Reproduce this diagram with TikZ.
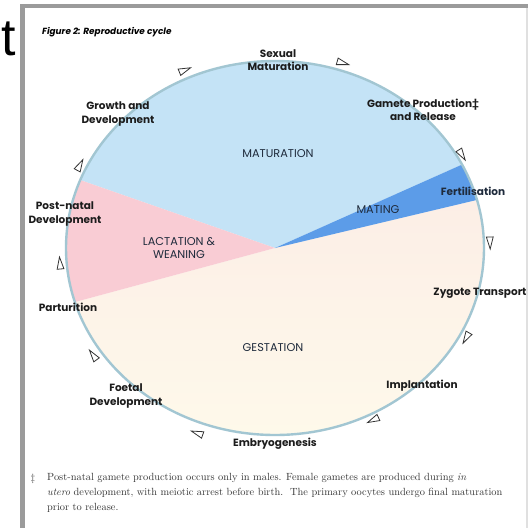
\documentclass[tikz,border=0pt]{standalone}
\usepackage{fontspec}
\newfontfamily\fut{Poppins}
\newfontfamily\bigsans{Liberation Sans}

\definecolor{framegray}{HTML}{9B9B9B}
\definecolor{gesttop}{HTML}{FCEEE6}
\definecolor{gestbottom}{HTML}{FEFAEB}
\definecolor{maturfill}{HTML}{C4E3F6}
\definecolor{lactfill}{HTML}{F9CCD4}
\definecolor{matefill}{HTML}{5C9CE8}
\definecolor{rim}{HTML}{A2C6D2}
\definecolor{labelink}{HTML}{1C1C1C}
\definecolor{zoneink}{HTML}{1F2B3C}
\definecolor{footink}{HTML}{353535}
\definecolor{tricol}{HTML}{333333}

\begin{document}
\begin{tikzpicture}[x=1pt,y=-1pt,
  stage/.style={font=\fut\bfseries\fontsize{10.5}{13.5}\selectfont, text=labelink, align=center, inner sep=0},
  zone/.style={font=\fut\fontsize{11.3}{13.5}\selectfont, text=zoneink, align=center, inner sep=0},
  footnote/.style={font=\rmfamily\fontsize{10.4}{15}\selectfont, text=footink, inner sep=0},
  pics/tri/.style={code={\draw[tricol, line width=0.8pt, fill=white, line join=miter]
      (6,0) -- (-6,3.4) -- (-6,-3.4) -- cycle;}}]
\useasboundingbox (0,0) rectangle (528,528);
\fill[white] (0,0) rectangle (528,528);

% page frame
\fill[framegray] (20,4) rectangle (528,8);
\fill[framegray] (20,4) rectangle (25,528);
\fill[black!12] (526,8) rectangle (527.5,528);

% stray heading letter
\node[font=\bigsans\fontsize{52}{52}\selectfont, anchor=base west, inner sep=0] (tletter) at (1.5,55) {t};

% caption
\node[font=\fut\bfseries\itshape\fontsize{8.9}{10}\selectfont, anchor=west, inner sep=0] (title) at (42,32) {Figure 2: Reproductive cycle};

% the cycle: sectors of the ellipse
\begin{scope}[shift={(275,248)}]
  \shade[top color=gesttop, bottom color=gestbottom] (0,0) -- (196.8:209pt and 187pt)
     arc[start angle=196.8, end angle=374.9, x radius=209pt, y radius=187pt] -- cycle;
  \fill[maturfill] (0,0) -- (26.5:209pt and 187pt)
     arc[start angle=26.5, end angle=158.7, x radius=209pt, y radius=187pt] -- cycle;
  \fill[lactfill] (0,0) -- (158.7:209pt and 187pt)
     arc[start angle=158.7, end angle=196.8, x radius=209pt, y radius=187pt] -- cycle;
  \fill[matefill] (0,0) -- (14.9:209pt and 187pt)
     arc[start angle=14.9, end angle=26.5, x radius=209pt, y radius=187pt] -- cycle;
  \draw[rim, line width=2.4pt] (0,0) ellipse[x radius=209pt, y radius=187pt];
\end{scope}

% direction markers around the rim (clockwise)
\pic[rotate=22]   at (185,70)  {tri};
\pic[rotate=-16]  at (343,63)  {tri};
\pic[rotate=-58]  at (462,155) {tri};
\pic[rotate=-88]  at (490,243) {tri};
\pic[rotate=-120] at (466,338) {tri};
\pic[rotate=-155] at (373,420) {tri};
\pic[rotate=161]  at (197,433) {tri};
\pic[rotate=126]  at (93,355)  {tri};
\pic[rotate=95]   at (60,263)  {tri};
\pic[rotate=62]   at (80,165)  {tri};

% stage labels
\node[stage] (sexmat) at (278,60) {Sexual\\Maturation};
\node[stage] (gamete) at (423,110) {Gamete Production‡\\and Release};
\node[stage] (growth) at (118,114) {Growth and\\Development};
\node[stage, text=zoneink] (fert) at (473,191) {Fertilisation};
\node[stage] (postnatal) at (65,214) {Post-natal\\Development};
\node[stage] (zygote) at (480,293) {Zygote Transport};
\node[stage] (partur) at (68,307) {Parturition};
\node[stage] (implant) at (422,386) {Implantation};
\node[stage] (foetal) at (126,396) {Foetal\\Development};
\node[stage] (embryo) at (275,444) {Embryogenesis};

% phase labels inside the cycle
\node[zone] (maturation) at (278,154) {MATURATION};
\node[zone] (mating) at (378,210) {MATING};
\node[zone] (lactation) at (179,248) {LACTATION \&\\WEANING};
\node[zone] (gestation) at (273,348) {GESTATION};

% footnote
\node[footnote, anchor=base] (dag) at (33,481) {\ddag};
\node[footnote, align=left, anchor=north west] (note) at (47,473)
  {Post-natal gamete production occurs only in males. Female gametes are produced during \textit{in}\\
   \textit{utero} development, with meiotic arrest before birth.\ \ The primary oocytes undergo final maturation\\
   prior to release.};
\end{tikzpicture}
\end{document}
